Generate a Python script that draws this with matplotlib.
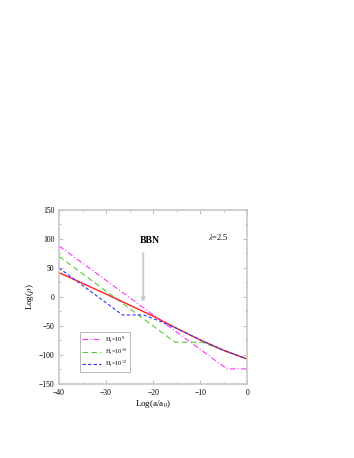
import matplotlib
matplotlib.use("Agg")
import matplotlib.pyplot as plt
from matplotlib.ticker import MultipleLocator

plt.rcParams['font.family'] = ['Liberation Serif', 'DejaVu Serif']
plt.rcParams['mathtext.fontset'] = 'stix'

# red solid curve
x_red = [-40, -30, -20, -15, -10, -5, 0]
y_red = [42, 5, -33, -54, -74, -92, -107]

# H_i = 10^8  (magenta dash-dot)
x_h8 = [-40, -4.3, 0]
y_h8 = [88, -124, -124]

# H_i = 10^10 (green dashed)
x_h10 = [-40, -15.3, -9.6, -5, 0]
y_h10 = [70, -78, -78, -92, -107]

# H_i = 10^12 (blue dashed)
x_h12 = [-40, -26.5, -22, -18.5, -15, -10, -5, 0]
y_h12 = [50, -31, -31, -42, -54, -74, -92, -107]

fig = plt.figure(figsize=(3.54, 4.58), dpi=100)
ax = fig.add_axes([0.1667, 0.1616, 0.5315, 0.38])

ax.plot(x_h8, y_h8, color='#ff33ff', lw=0.8, dashes=(5, 2, 1, 2), label='H$_i$=10$^{8}$')
ax.plot(x_h10, y_h10, color='#55cc33', lw=0.8, dashes=(5, 3), label='H$_i$=10$^{10}$')
ax.plot(x_red, y_red, color='#ff2222', lw=1.0)
ax.plot(x_h12, y_h12, color='#3333ff', lw=0.8, dashes=(3, 2), label='H$_i$=10$^{12}$')

ax.set_xlim(-40, 0)
ax.set_ylim(-150, 150)
ax.xaxis.set_major_locator(MultipleLocator(10))
ax.xaxis.set_minor_locator(MultipleLocator(5))
ax.yaxis.set_major_locator(MultipleLocator(50))
ax.yaxis.set_minor_locator(MultipleLocator(25))
ax.tick_params(which='both', direction='in', top=True, right=True,
               labelsize=5.5, color='#b0b0b0', width=0.6)
ax.tick_params(which='major', length=3)
ax.tick_params(which='minor', length=1.5)
for s in ax.spines.values():
    s.set_color('#c8c8c8')
    s.set_linewidth(1.2)

ax.set_xlabel('Log(a/a$_0$)', fontsize=6.5, labelpad=1)
ax.set_ylabel('Log($\\rho$)', fontsize=6.5, labelpad=2)

ax.annotate('', xy=(-22.1, -14), xytext=(-22.1, 80),
            arrowprops=dict(arrowstyle='-|>', color='#cccccc', lw=1.5,
                            mutation_scale=5))
ax.text(-20.6, 98, 'BBN', fontsize=7, fontweight='bold', ha='center', va='center')
ax.text(-6.2, 103, '$\\lambda$=2.5', fontsize=6, ha='center', va='center')

leg = ax.legend(loc='lower left', bbox_to_anchor=(0.11, 0.069), fontsize=4.5,
                handlelength=3, frameon=True, fancybox=False, borderpad=0.4,
                labelspacing=0.25, handletextpad=0.6, borderaxespad=0)
leg.get_frame().set_edgecolor('#999999')
leg.get_frame().set_linewidth(0.6)

fig.savefig('out.png', dpi=100)
